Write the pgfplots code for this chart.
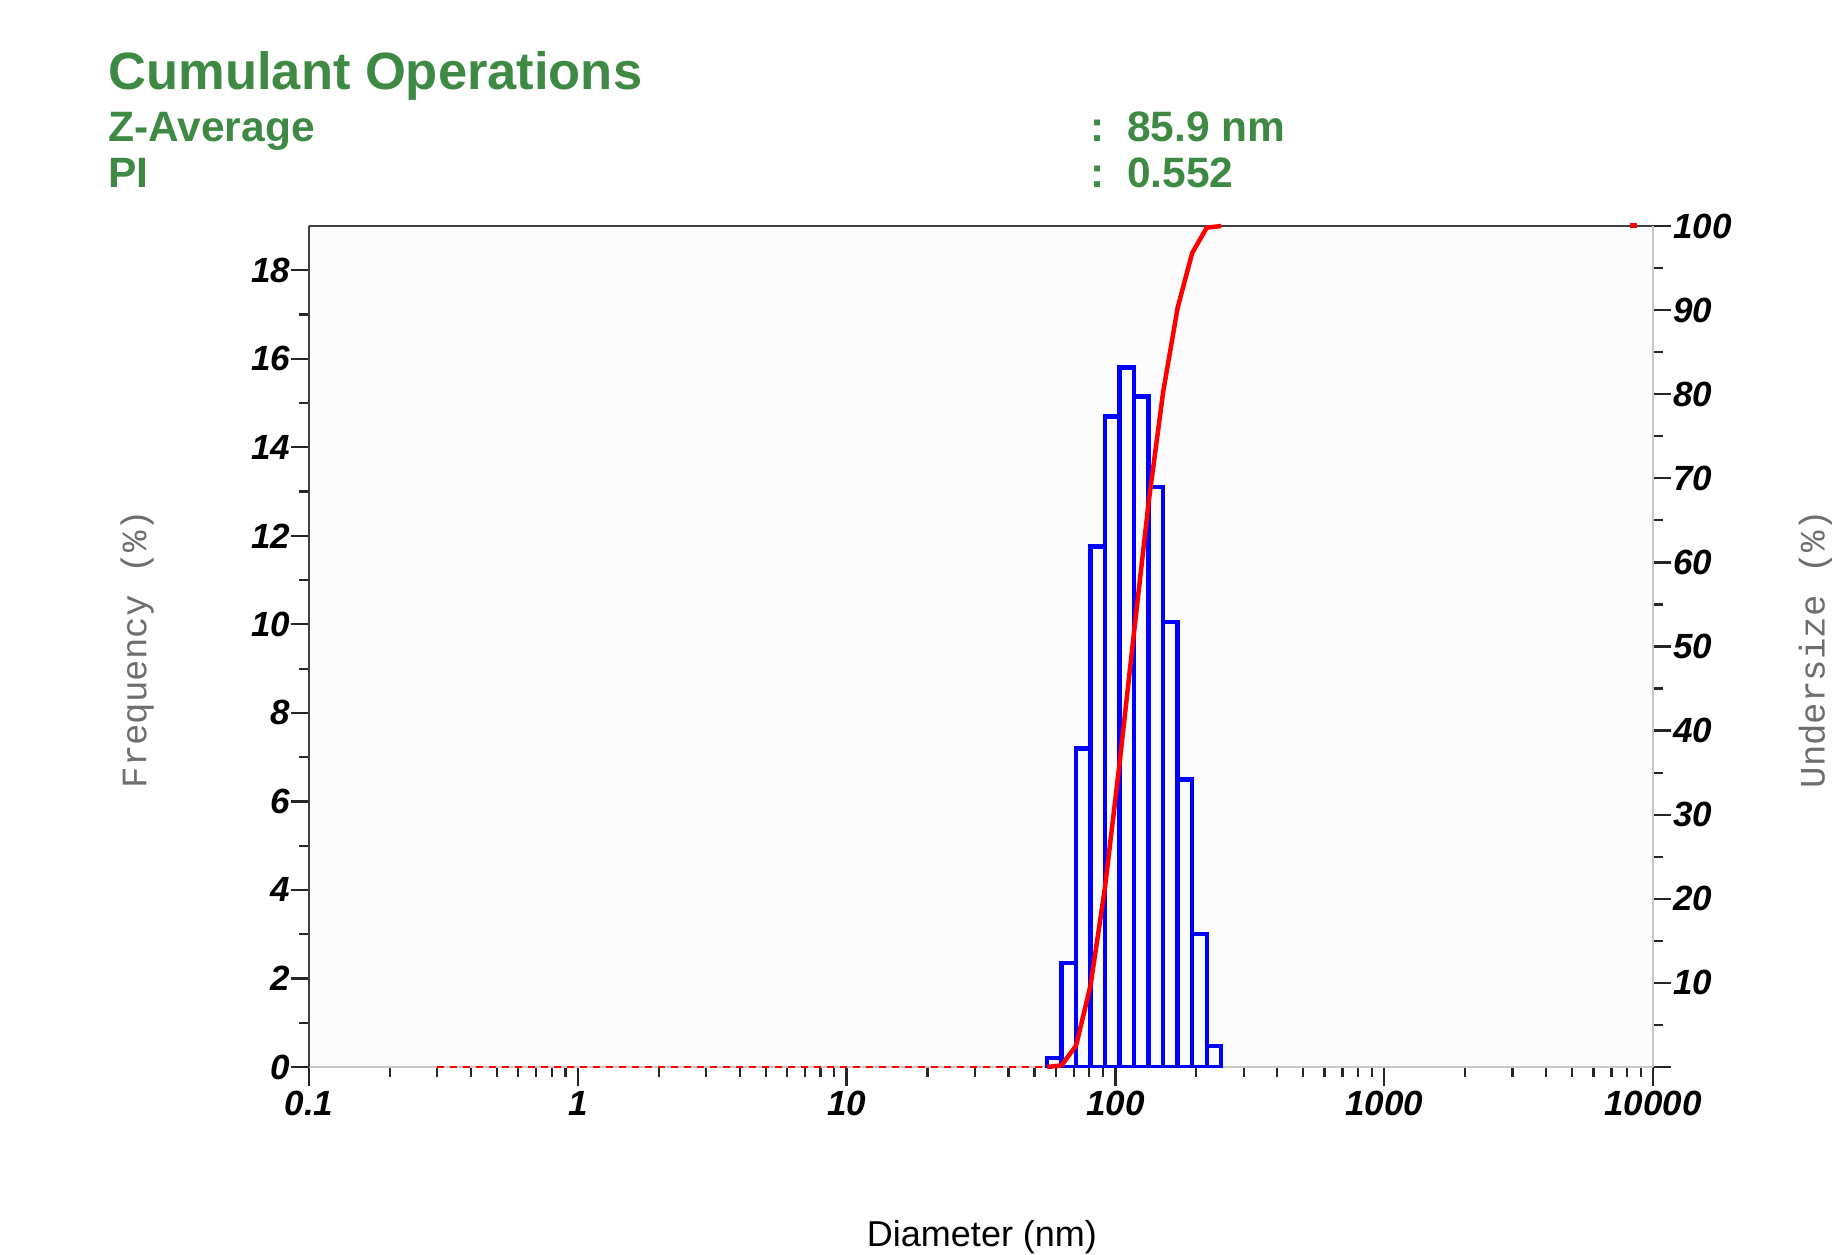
\documentclass[border=0pt]{standalone}
\usepackage{fontspec}
\setmainfont{Liberation Sans}
\setmonofont{Liberation Mono}
\usepackage{pgfplots}
\pgfplotsset{compat=1.18}
\definecolor{zgreen}{RGB}{62,137,67}
\definecolor{axgray}{RGB}{200,200,200}
\definecolor{labgray}{RGB}{110,110,110}
\begin{document}
\begin{tikzpicture}
\path[use as bounding box] (0,0) rectangle (733.6pt,501.6pt);
\pgfplotsset{
  every axis/.append style={
    scale only axis, width=537.6pt, height=336.4pt,
    at={(123.6pt,74.8pt)}, anchor=south west,
    xmode=log, xmin=0.1, xmax=10000,
    tick align=outside,
    major tick length=7.4pt, minor tick length=4pt,
    every tick/.style={black!85, line width=0.9pt},
    axis line style={-},
    /pgf/number format/assume math mode=true,
    ticklabel style={font=\fontsize{14}{14}\selectfont\bfseries\itshape},
  }
}
\begin{axis}[
  axis x line*=bottom, axis y line*=left,
  x axis line style={draw=axgray, line width=0.8pt},
  y axis line style={draw=black!75, line width=0.9pt},
  axis background/.style={fill=black!1},
  ymin=0, ymax=19,
  xtick={0.1,1,10,100,1000,10000},
  xticklabels={0.1,1,10,100,1000,10000},
  ytick={0,2,4,6,8,10,12,14,16,18},
  yticklabels={0,2,4,6,8,10,12,14,16,18},
  minor y tick num=1,
  yticklabel style={inner sep=0pt},
  xticklabel style={inner sep=2pt},
  after end axis/.code={\draw[black!75, line width=0.9pt] (rel axis cs:0,1) -- (rel axis cs:1,1);},
]
\addplot[ybar interval, draw=blue, fill=none, line width=1.8pt] coordinates {
 (55.7,0.2) (63.07,2.35) (71.42,7.2) (80.88,11.76) (91.59,14.7) (103.7,15.8)
 (117.4,15.15) (133.0,13.1) (150.6,10.05) (170.5,6.5) (193.1,3.0) (218.7,0.48) (247.6,0)
};
\end{axis}
\begin{axis}[
  axis x line=none, axis y line*=right,
  y axis line style={draw=axgray, line width=0.8pt},
  ymin=0, ymax=100,
  ytick={0,10,20,30,40,50,60,70,80,90,100},
  yticklabels={{},10,20,30,40,50,60,70,80,90,100},
  minor y tick num=1,
  yticklabel style={inner sep=0.5pt},
  clip=false,
]
\addplot[red, line width=1.1pt, dash pattern=on 2.6pt off 2.6pt] coordinates {
 (0.3,0) (55.7,0)
};
\addplot[red, line width=1.8pt] coordinates {
 (55.7,0) (63.07,0.2) (71.42,2.55) (80.88,9.75) (91.59,21.5) (103.7,36.2)
 (117.4,51.8) (133.0,67.2) (150.6,80.3) (170.5,90.3) (193.1,96.8) (218.7,99.8) (247.6,100)
};
\addplot[red, line width=2pt] coordinates {(8200,100) (8700,100)};
\end{axis}
\node[anchor=base west, text=zgreen, font=\fontsize{21}{21}\selectfont\bfseries, inner sep=0pt] at (43.2pt,465.6pt) {Cumulant Operations};
\node[anchor=base west, text=zgreen, font=\fontsize{17}{17}\selectfont\bfseries, inner sep=0pt] at (43.2pt,445pt) {Z-Average};
\node[anchor=base west, text=zgreen, font=\fontsize{17}{17}\selectfont\bfseries, inner sep=0pt] at (43.2pt,426.4pt) {PI};
\node[anchor=base west, text=zgreen, font=\fontsize{17}{17}\selectfont\bfseries, inner sep=0pt] at (436pt,445pt) {:};
\node[anchor=base west, text=zgreen, font=\fontsize{17}{17}\selectfont\bfseries, inner sep=0pt] at (436pt,426.4pt) {:};
\node[anchor=base west, text=zgreen, font=\fontsize{17}{17}\selectfont\bfseries, inner sep=0pt] at (450.6pt,445pt) {85.9 nm};
\node[anchor=base west, text=zgreen, font=\fontsize{17}{17}\selectfont\bfseries, inner sep=0pt] at (450.6pt,426.4pt) {0.552};
\node[anchor=base, font=\fontsize{14.4}{14.4}\selectfont, inner sep=0pt] at (392.8pt,3.2pt) {Diameter (nm)};
\node[anchor=base, rotate=90, text=labgray, font=\fontsize{14.3}{14.3}\selectfont\ttfamily, inner sep=0pt] at (58.5pt,242pt) {Frequency (\%)};
\node[anchor=base, rotate=90, text=labgray, font=\fontsize{14.3}{14.3}\selectfont\ttfamily, inner sep=0pt] at (729.8pt,242pt) {Undersize (\%)};
\end{tikzpicture}
\end{document}
